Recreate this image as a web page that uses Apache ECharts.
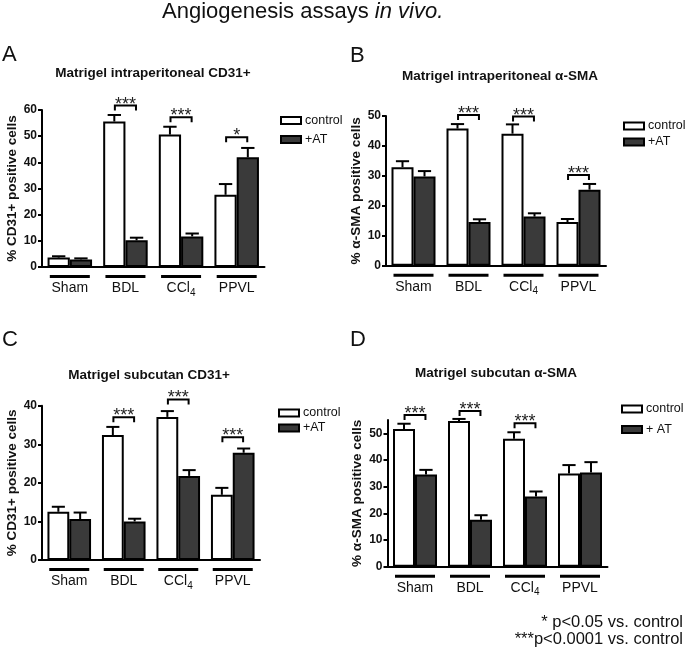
<!DOCTYPE html>
<html><head><meta charset="utf-8">
<script src="https://cdn.jsdelivr.net/npm/echarts@6/dist/echarts.min.js"></script>
<style>html,body{margin:0;padding:0;background:#fff}#c{width:685px;height:659px}</style>
</head><body><div id="c"></div>
<script>
// ---------- data ----------
const categories = ['Sham', 'BDL', 'CCl4', 'PPVL'];

// A: Matrigel intraperitoneal CD31+
const A_control = [3.6, 55.6, 50.6, 27.6];
const A_control_sem = [0.5, 2.5, 3.0, 4.1];
const A_at = [2.9, 10.2, 11.7, 41.9];
const A_at_sem = [0.4, 1.0, 1.1, 3.6];
const A_sig_cat = [1, 2, 3];
const A_sig_level = [61.7, 57.2, 49.6];
const A_sig_label = ['***', '***', '*'];

// B: Matrigel intraperitoneal α-SMA
const B_control = [32.9, 45.8, 44.1, 14.6];
const B_control_sem = [2.0, 1.5, 3.1, 1.0];
const B_at = [29.8, 14.6, 16.4, 25.4];
const B_at_sem = [1.8, 0.9, 1.1, 1.9];
const B_sig_cat = [1, 2, 3];
const B_sig_level = [50.3, 49.8, 30.3];
const B_sig_label = ['***', '***', '***'];

// C: Matrigel subcutan CD31+
const C_control = [12.5, 32.4, 37.1, 16.9];
const C_control_sem = [1.3, 2.1, 1.5, 1.8];
const C_at = [10.6, 10.0, 21.8, 27.8];
const C_at_sem = [1.7, 0.7, 1.5, 1.1];
const C_sig_cat = [1, 2, 3];
const C_sig_level = [37.0, 41.6, 31.8];
const C_sig_label = ['***', '***', '***'];

// D: Matrigel subcutan α-SMA
const D_control = [51.6, 54.6, 48.0, 34.9];
const D_control_sem = [2.0, 0.8, 2.4, 3.2];
const D_at = [34.6, 17.6, 26.3, 35.3];
const D_at_sem = [1.7, 1.7, 1.9, 3.9];
const D_sig_cat = [0, 1, 2];
const D_sig_level = [56.9, 58.4, 53.75];
const D_sig_label = ['***', '***', '***'];

// axis ranges / ticks
const A_yMax = 60, B_yMax = 50, C_yMax = 40, D_yMax = 55;
const yTicksA = [0, 10, 20, 30, 40, 50, 60];
const yTicksB = [0, 10, 20, 30, 40, 50];
const yTicksC = [0, 10, 20, 30, 40];
const yTicksD = [0, 10, 20, 30, 40, 50];

const panelTitles = ['Matrigel intraperitoneal CD31+', 'Matrigel intraperitoneal α-SMA', 'Matrigel subcutan CD31+', 'Matrigel subcutan α-SMA'];
const yNames = ['% CD31+ positive cells', '% α-SMA positive cells', '% CD31+ positive cells', '% α-SMA positive cells'];
const ctrlNames = ['control', 'control', 'control', 'control'];
const atNames = ['+AT', '+AT', '+AT', '+ AT'];
const letters = ['A', 'B', 'C', 'D'];
const mainTitle = 'Angiogenesis assays ';
const mainTitleItalic = 'in vivo.';
const footnotes = ['* p<0.05 vs. control', '***p<0.0001 vs. control'];

// ---------- layout (pixels) ----------
const FONT = '"Liberation Sans", Arial, Helvetica, sans-serif';
const panels = [
  { ctrl: A_control, ctrlSem: A_control_sem, at: A_at, atSem: A_at_sem, sigCat: A_sig_cat, sigLevel: A_sig_level, sigLabel: A_sig_label, max: A_yMax, ticks: yTicksA,
    grid: { left: 42, top: 110, width: 222.5, height: 157 }, nameGap: 21,
    legend: { left: 280, top: 114, gap: 6 }, title: [153, 73], letter: [2, 55] },
  { ctrl: B_control, ctrlSem: B_control_sem, at: B_at, atSem: B_at_sem, sigCat: B_sig_cat, sigLevel: B_sig_level, sigLabel: B_sig_label, max: B_yMax, ticks: yTicksB,
    grid: { left: 386, top: 116, width: 220, height: 149.7 }, nameGap: 21,
    legend: { left: 623, top: 119.5, gap: 3 }, title: [500, 76], letter: [350, 56] },
  { ctrl: C_control, ctrlSem: C_control_sem, at: C_at, atSem: C_at_sem, sigCat: C_sig_cat, sigLevel: C_sig_level, sigLabel: C_sig_label, max: C_yMax, ticks: yTicksC,
    grid: { left: 42, top: 405.7, width: 218, height: 154.3 }, nameGap: 21,
    legend: { left: 278, top: 406.5, gap: 2 }, title: [149, 375], letter: [2, 340] },
  { ctrl: D_control, ctrlSem: D_control_sem, at: D_at, atSem: D_at_sem, sigCat: D_sig_cat, sigLevel: D_sig_level, sigLabel: D_sig_label, max: D_yMax, ticks: yTicksD,
    grid: { left: 387.5, top: 420, width: 220, height: 146.7 }, nameGap: 23,
    legend: { left: 621, top: 402.5, gap: 7.5 }, title: [496, 373], letter: [350, 340] }
];

function errRender(frac) {
  return function (params, api) {
    const c = api.value(0), m = api.value(1), e = api.value(2);
    const band = api.size([1, 0])[0];
    const p0 = api.coord([c, m]);
    const p1 = api.coord([c, m + e]);
    const x = p0[0] + frac * band;
    const cap = band * 0.12;
    return { type: 'group', children: [
      { type: 'line', shape: { x1: x, y1: p0[1], x2: x, y2: p1[1] }, style: { stroke: '#000', lineWidth: 2 } },
      { type: 'line', shape: { x1: x - cap, y1: p1[1], x2: x + cap, y2: p1[1] }, style: { stroke: '#000', lineWidth: 2 } }
    ]};
  };
}
function sigRender(labels) {
  return function (params, api) {
    const c = api.value(0), lv = api.value(1);
    const band = api.size([1, 0])[0];
    const p = api.coord([c, lv]);
    const x1 = p[0] - 0.19 * band, x2 = p[0] + 0.19 * band, y = p[1];
    return { type: 'group', children: [
      { type: 'polyline', shape: { points: [[x1, y + 5], [x1, y], [x2, y], [x2, y + 5]] }, style: { stroke: '#000', lineWidth: 2, fill: null } },
      { type: 'text', x: p[0], y: y - 1, style: { text: labels[params.dataIndex], font: '18px ' + FONT, fill: '#222', align: 'center', verticalAlign: 'middle' } }
    ]};
  };
}

const grids = [], xAxes = [], yAxes = [], series = [], legends = [], graphics = [];
panels.forEach((p, i) => {
  grids.push(Object.assign({ containLabel: false }, p.grid));
  xAxes.push({
    type: 'category', gridIndex: i, data: categories,
    axisLine: { lineStyle: { color: '#000', width: 2 } },
    axisTick: { show: false },
    axisLabel: {
      margin: 8, interval: 0,
      formatter: v => '{u|}\n' + (v === 'CCl4' ? '{t|CCl}{s|4}' : '{t|' + v + '}'),
      rich: {
        u: { width: 40, height: 3, lineHeight: 3, backgroundColor: '#000' },
        t: { fontSize: 14, lineHeight: 20, color: '#111', fontFamily: FONT },
        s: { fontSize: 10, lineHeight: 11, verticalAlign: 'bottom', color: '#111', fontFamily: FONT }
      }
    }
  });
  yAxes.push({
    type: 'value', gridIndex: i, min: 0, max: p.max, interval: 10,
    name: yNames[i], nameLocation: 'middle', nameGap: p.nameGap,
    nameTextStyle: { fontSize: 13.5, fontWeight: 'bold', color: '#111', fontFamily: FONT },
    axisLine: { show: true, lineStyle: { color: '#000', width: 2 } },
    axisTick: { show: true, length: 4, lineStyle: { color: '#000', width: 2 }, customValues: p.ticks },
    axisLabel: { fontSize: 12, fontWeight: 'bold', color: '#111', margin: 5, fontFamily: FONT, customValues: p.ticks },
    splitLine: { show: false }
  });
  series.push({
    type: 'bar', name: ctrlNames[i], xAxisIndex: i, yAxisIndex: i, data: p.ctrl,
    barGap: '0%', barCategoryGap: '20%',
    itemStyle: { color: '#fff', borderColor: '#000', borderWidth: 2 }, z: 2, silent: true
  });
  series.push({
    type: 'bar', name: atNames[i], xAxisIndex: i, yAxisIndex: i, data: p.at,
    barGap: '0%', barCategoryGap: '20%',
    itemStyle: { color: '#3a3a3a', borderColor: '#000', borderWidth: 2 }, z: 2, silent: true
  });
  series.push({
    type: 'custom', name: 'errC' + i, xAxisIndex: i, yAxisIndex: i, clip: false, z: 3, silent: true,
    renderItem: errRender(-0.2), encode: { x: 0, y: 1 },
    data: p.ctrl.map((v, k) => [k, v, p.ctrlSem[k]])
  });
  series.push({
    type: 'custom', name: 'errA' + i, xAxisIndex: i, yAxisIndex: i, clip: false, z: 3, silent: true,
    renderItem: errRender(0.2), encode: { x: 0, y: 1 },
    data: p.at.map((v, k) => [k, v, p.atSem[k]])
  });
  series.push({
    type: 'custom', name: 'sig' + i, xAxisIndex: i, yAxisIndex: i, clip: false, z: 3, silent: true,
    renderItem: sigRender(p.sigLabel), encode: { x: 0, y: 1 },
    data: p.sigCat.map((c, k) => [c, p.sigLevel[k]])
  });
  legends.push({
    orient: 'vertical', left: p.legend.left, top: p.legend.top, itemGap: p.legend.gap, padding: 0,
    itemWidth: 20, itemHeight: 7, icon: 'rect', selectedMode: false,
    data: [ctrlNames[i], atNames[i]],
    itemStyle: { borderColor: '#000', borderWidth: 2 },
    textStyle: { fontSize: 12.5, color: '#111', fontFamily: FONT, padding: [0, 0, 0, -1] }
  });
  graphics.push({ type: 'text', x: p.title[0], y: p.title[1], style: { text: panelTitles[i], font: 'bold 13.5px ' + FONT, fill: '#111', align: 'center', verticalAlign: 'middle' } });
  graphics.push({ type: 'text', x: p.letter[0], y: p.letter[1], style: { text: letters[i], font: '22px ' + FONT, fill: '#111', align: 'left', verticalAlign: 'middle' } });
});

graphics.push({ type: 'text', x: 162, y: 12, style: {
  text: '{n|' + mainTitle + '}{i|' + mainTitleItalic + '}',
  align: 'left', verticalAlign: 'middle',
  rich: { n: { fontSize: 22, fontFamily: FONT, fill: '#111' }, i: { fontSize: 22, fontStyle: 'italic', fontFamily: FONT, fill: '#111' } }
}});
graphics.push({ type: 'text', x: 683, y: 622, style: { text: footnotes[0], font: '16.5px ' + FONT, fill: '#111', align: 'right', verticalAlign: 'middle' } });
graphics.push({ type: 'text', x: 683, y: 639, style: { text: footnotes[1], font: '16.5px ' + FONT, fill: '#111', align: 'right', verticalAlign: 'middle' } });

const chart = echarts.init(document.getElementById('c'), null, { renderer: 'canvas' });
chart.setOption({
  backgroundColor: '#fff',
  animation: false,
  grid: grids, xAxis: xAxes, yAxis: yAxes, series: series, legend: legends,
  graphic: graphics
});
</script>
</body></html>
